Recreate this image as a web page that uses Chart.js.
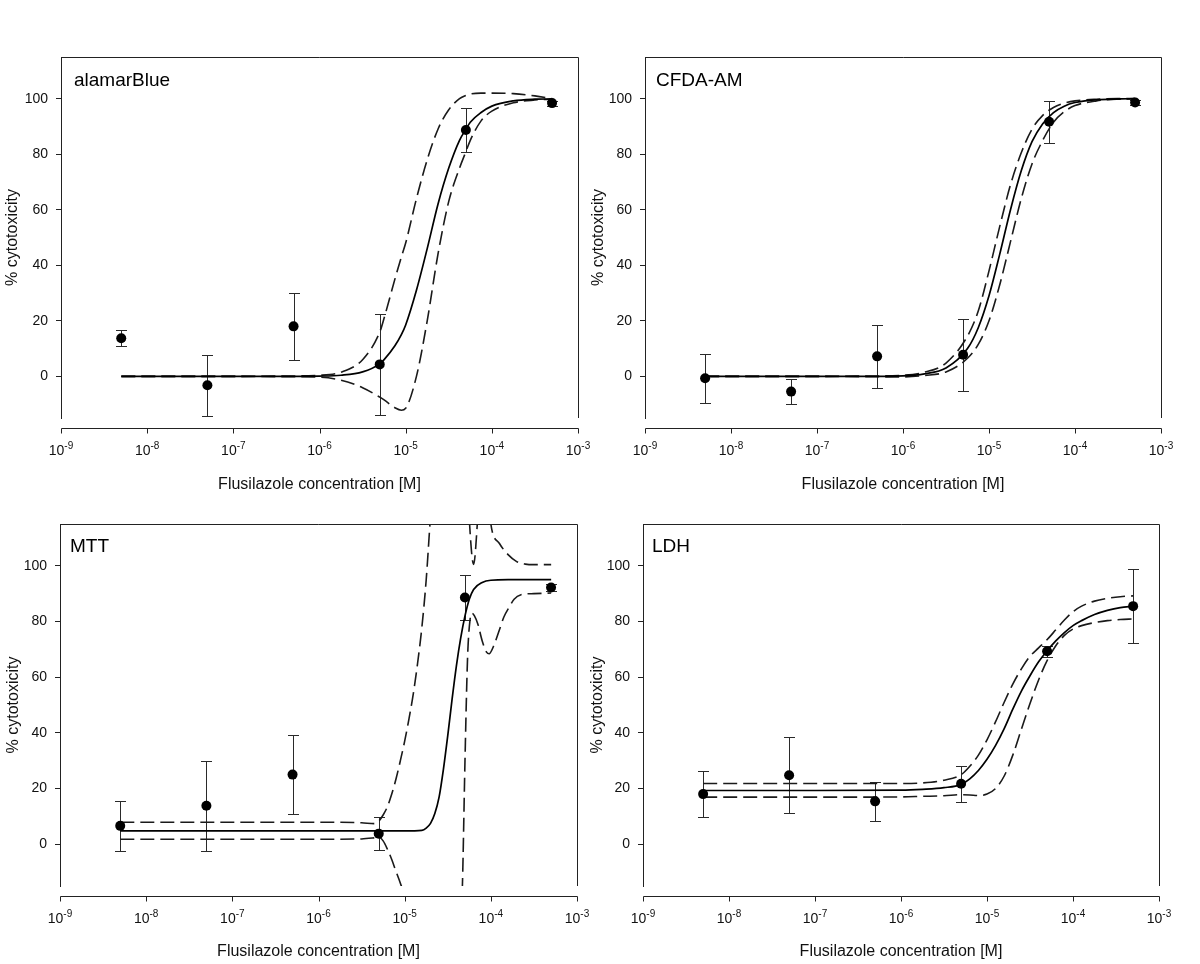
<!DOCTYPE html>
<html>
<head>
<meta charset="utf-8">
<title>Flusilazole cytotoxicity</title>
<script src="https://cdn.jsdelivr.net/npm/chart.js@4.4.1/dist/chart.umd.min.js"></script>
<style>
  html, body { margin: 0; padding: 0; background: #fff; overflow: hidden; }
  #wrap { position: relative; width: 1200px; height: 964px; background: #fff; }
  canvas { position: absolute; }
</style>
</head>
<body>
<div id="wrap">
  <canvas id="c1" width="600" height="500" style="left:0px;top:0px"></canvas>
  <canvas id="c2" width="620" height="500" style="left:580px;top:0px"></canvas>
  <canvas id="c3" width="600" height="464" style="left:0px;top:500px"></canvas>
  <canvas id="c4" width="620" height="464" style="left:580px;top:500px"></canvas>
</div>
<script>
// concentrations of the measured points (M)
const concM = [5e-9, 5e-8, 5e-7, 5e-6, 5e-5, 5e-4];
const tickExp = [-9, -8, -7, -6, -5, -4, -3];
const yTicks = [0, 20, 40, 60, 80, 100];

// alamarBlue
const abMean = [13.7, -3.2, 18.0, 4.3, 88.7, 98.4];
const abSd = [2.9, 11.0, 12.0, 18.2, 7.8, 0.9];
const abCurveExp = [-8.3, -7, -6.5, -6, -5.75, -5.5, -5.3, -5.25, -5.125, -5.05, -5, -4.875, -4.75, -4.625, -4.5, -4.375, -4.3, -4.25, -4.125, -4, -3.75, -3.5, -3.3];
const abFit = [0, 0, 0, 0.1, 0.4, 1.6, 4.5, 6, 11, 15, 18.5, 31, 46, 62, 75, 85, 89, 91.5, 95, 97.3, 99.2, 99.8, 99.9];
const abHi = [0, 0, 0.1, 0.4, 1.5, 6, 16, 21, 35, 43, 48, 64, 78, 89, 96, 100, 101.2, 101.7, 102, 102, 101.8, 101, 100];
const abLo = [0, 0, -0.1, -0.3, -1.4, -4.1, -7.5, -8.5, -11.3, -12.2, -11.5, 0, 20, 44, 63, 75, 81, 85, 92, 95.5, 98.5, 99.5, 99.8];

// CFDA-AM
const cfMean = [-0.7, -5.5, 7.2, 7.8, 91.7, 98.6];
const cfSd = [8.8, 4.4, 11.3, 13.0, 7.5, 0.9];
const cfCurveExp = [-8.3, -7, -6.5, -6, -5.75, -5.5, -5.25, -5.125, -5, -4.875, -4.75, -4.625, -4.5, -4.375, -4.25, -4.125, -4, -3.75, -3.5, -3.3];
const cfFit = [0, 0, 0, 0.2, 0.9, 3, 10, 17.5, 29, 44, 60, 74, 84.5, 91, 95, 97.3, 98.6, 99.6, 99.9, 100];
const cfHi = [0, 0, 0.1, 0.4, 1.5, 4.8, 14.5, 23.5, 38, 54, 69, 80.5, 89, 94, 96.8, 98.4, 99.2, 99.8, 100, 100];
const cfLo = [0, 0, -0.1, -0.2, 0.3, 1.6, 6.5, 11.5, 20, 33, 48.5, 64, 76.5, 85, 91.5, 95.3, 97.5, 99.2, 99.8, 99.9];

// MTT
const mtMean = [6.6, 13.8, 25.0, 3.8, 88.6, 92.2];
const mtSd = [9.0, 16.2, 14.3, 6.0, 8.2, 1.2];
const mtFitExp = [-8.3, -5.0, -4.8, -4.75, -4.7, -4.65, -4.6, -4.55, -4.5, -4.45, -4.4, -4.35, -4.3, -4.25, -4.2, -4.1, -4.0, -3.8, -3.3];
const mtFit = [4.8, 4.8, 5.0, 5.8, 7.5, 11, 17, 27, 39, 52, 64, 74, 82, 88, 91.5, 94, 94.8, 95, 95];
const mtHiExp = [-8.3, -6, -5.5, -5.35, -5.3, -5.25, -5.2, -5.15, -5.1, -5.05, -5.0, -4.95, -4.9, -4.85, -4.8, -4.75, -4.7, -4.6, -4.45, -4.3, -4.26, -4.2, -4.14, -4.07, -4.0, -3.9, -3.8, -3.7, -3.6, -3.5, -3.3];
const mtHi = [7.9, 7.9, 7.7, 7.4, 8.3, 10.5, 13.5, 18, 23.5, 30, 37, 45, 54, 65, 78, 95, 118, 160, 175, 150, 122, 100.5, 122, 140, 115, 108, 104, 101.5, 100.6, 100.4, 100.4];
const mtLoExp = [-8.3, -6, -5.5, -5.35, -5.3, -5.25, -5.2, -5.15, -5.1, -5.05, -5.0, -4.9, -4.7, -4.5, -4.38, -4.33, -4.3, -4.27, -4.24, -4.22, -4.19, -4.15, -4.1, -4.05, -4.02, -3.97, -3.9, -3.85, -3.78, -3.73, -3.65, -3.5, -3.3];
const mtLo = [1.8, 1.8, 1.9, 2.3, 2.5, 1.2, -1.8, -5.5, -9.8, -14, -19, -35, -70, -80, -50, -15, 30, 67, 81, 83, 82, 79, 73, 69, 68.4, 71, 77, 81.5, 85.5, 88, 89.6, 90, 90.2];

// LDH
const ldMean = [18.0, 24.8, 15.4, 21.7, 69.3, 85.5];
const ldSd = [8.3, 13.6, 7.0, 6.5, 2.0, 13.2];
const ldCurveExp = [-8.3, -7, -6, -5.75, -5.5, -5.3, -5.2, -5.1, -5, -4.9, -4.8, -4.7, -4.6, -4.5, -4.4, -4.3, -4.2, -4.1, -4.0, -3.9, -3.75, -3.6, -3.45, -3.3];
const ldFit = [19.3, 19.3, 19.4, 19.7, 20.3, 21.5, 23.5, 26.5, 30.5, 35.5, 41.5, 48.5, 55, 60.5, 65.5, 69.5, 73, 76, 78.5, 80.3, 82.5, 84, 85, 85.5];
const ldHi = [21.8, 21.8, 21.8, 22, 23, 25, 28, 32, 37.5, 44, 51, 57.5, 63, 67.5, 70.5, 73.5, 77, 80.5, 83.5, 85.5, 87.3, 88.3, 88.9, 89.2];
const ldLo = [16.9, 16.9, 17, 17.2, 17.4, 17.8, 17.7, 17.5, 18, 20, 24.5, 32, 41.3, 50.5, 59, 66, 71.3, 75, 77.3, 78.5, 79.6, 80.3, 80.7, 80.9];

const FONT = '"Liberation Sans", Arial, Helvetica, sans-serif';
Chart.defaults.font.family = FONT;
Chart.defaults.color = '#111';

function toXY(exps, vals) {
    return exps.map((e, i) => ({ x: Math.pow(10, e), y: vals[i] }));
}

const panels = [
    { id: 'c1', label: 'alamarBlue', mean: abMean, sd: abSd,
      fit: toXY(abCurveExp, abFit), hi: toXY(abCurveExp, abHi), lo: toXY(abCurveExp, abLo),
      area: { left: 61, right: 578, top: 57, bottom: 418 }, yPad: 3.4, xPad: 5.4, labelDx: 13, labelDy: 29 },
    { id: 'c2', label: 'CFDA-AM', mean: cfMean, sd: cfSd,
      fit: toXY(cfCurveExp, cfFit), hi: toXY(cfCurveExp, cfHi), lo: toXY(cfCurveExp, cfLo),
      area: { left: 65, right: 581, top: 57, bottom: 418 }, yPad: 9, xPad: 5.4, labelDx: 11, labelDy: 29 },
    { id: 'c3', label: 'MTT', mean: mtMean, sd: mtSd,
      fit: toXY(mtFitExp, mtFit), hi: toXY(mtHiExp, mtHi), lo: toXY(mtLoExp, mtLo),
      area: { left: 60, right: 577, top: 24, bottom: 386 }, yPad: 4, xPad: 2.7, labelDx: 10, labelDy: 28 },
    { id: 'c4', label: 'LDH', mean: ldMean, sd: ldSd,
      fit: toXY(ldCurveExp, ldFit), hi: toXY(ldCurveExp, ldHi), lo: toXY(ldCurveExp, ldLo),
      area: { left: 63, right: 579, top: 24, bottom: 386 }, yPad: 8, xPad: 2.7, labelDx: 9, labelDy: 28 }
];

function framePlugin(p) {
    return {
        id: 'frame_' + p.id,
        beforeDatasetsDraw(chart) {
            // error bars under the dots
            const ctx = chart.ctx;
            const x = chart.scales.x, y = chart.scales.y;
            ctx.save();
            ctx.strokeStyle = '#2a2a2a';
            ctx.lineWidth = 1;
            p.mean.forEach((m, i) => {
                const px = Math.round(x.getPixelForValue(concM[i])) + 0.5;
                const yt = Math.round(y.getPixelForValue(m + p.sd[i])) + 0.5;
                const yb = Math.round(y.getPixelForValue(m - p.sd[i])) + 0.5;
                ctx.beginPath();
                ctx.moveTo(px, yt); ctx.lineTo(px, yb);
                ctx.moveTo(px - 5.5, yt); ctx.lineTo(px + 5.5, yt);
                ctx.moveTo(px - 5.5, yb); ctx.lineTo(px + 5.5, yb);
                ctx.stroke();
            });
            ctx.restore();
        },
        afterDraw(chart) {
            const ctx = chart.ctx;
            const ca = chart.chartArea;
            const x = chart.scales.x;
            ctx.save();
            ctx.strokeStyle = '#222';
            ctx.lineWidth = 1;
            // top and right border of the frame
            const t = Math.round(ca.top) + 0.5;
            const r = Math.round(ca.right) + 0.5;
            ctx.beginPath();
            ctx.moveTo(ca.left, t); ctx.lineTo(r, t);
            ctx.lineTo(r, ca.bottom);
            ctx.stroke();
            // x axis, set a little below the frame
            const ax = Math.round(ca.bottom) + 10.5;
            ctx.beginPath();
            ctx.moveTo(Math.round(x.getPixelForValue(1e-9)) + 0.5, ax);
            ctx.lineTo(Math.round(x.getPixelForValue(1e-3)) + 0.5, ax);
            tickExp.forEach(e => {
                const px = Math.round(x.getPixelForValue(Math.pow(10, e))) + 0.5;
                ctx.moveTo(px, ax);
                ctx.lineTo(px, ax + 5);
            });
            ctx.stroke();
            // x tick labels as 10 with a raised exponent
            ctx.fillStyle = '#111';
            ctx.textBaseline = 'alphabetic';
            ctx.textAlign = 'left';
            const base = Math.round(ca.bottom) + 37;
            tickExp.forEach(e => {
                const px = x.getPixelForValue(Math.pow(10, e));
                const exp = String(e);
                ctx.font = '14px ' + FONT;
                const w1 = ctx.measureText('10').width;
                ctx.font = '10px ' + FONT;
                const w2 = ctx.measureText(exp).width;
                const sx = px - (w1 + w2) / 2;
                ctx.font = '14px ' + FONT;
                ctx.fillText('10', sx, base);
                ctx.font = '10px ' + FONT;
                ctx.fillText(exp, sx + w1, base - 6);
            });
            // panel name
            ctx.fillStyle = '#000';
            ctx.font = '19px ' + FONT;
            ctx.fillText(p.label, ca.left + p.labelDx, ca.top + p.labelDy);
            ctx.restore();
        }
    };
}

function curve(data, dashed) {
    return {
        data: data,
        borderColor: dashed ? '#1a1a1a' : '#000',
        borderWidth: dashed ? 1.6 : 1.7,
        borderDash: dashed ? [14, 6] : [],
        pointRadius: 0,
        fill: false,
        cubicInterpolationMode: 'monotone',
        clip: 0,
        order: 1
    };
}

function makeChart(p) {
    const canvas = document.getElementById(p.id);
    const W = canvas.width, H = canvas.height;
    const a = p.area;
    new Chart(canvas, {
        type: 'line',
        data: {
            datasets: [
                {
                    data: concM.map((c, i) => ({ x: c, y: p.mean[i] })),
                    showLine: false,
                    pointRadius: 5,
                    pointBackgroundColor: '#000',
                    pointBorderColor: '#000',
                    pointBorderWidth: 0,
                    order: 0
                },
                curve(p.fit, false),
                curve(p.hi, true),
                curve(p.lo, true)
            ]
        },
        options: {
            responsive: false,
            animation: false,
            devicePixelRatio: 1,
            events: [],
            layout: { padding: { left: 0, top: a.top, right: W - a.right, bottom: 0 } },
            plugins: { legend: { display: false }, tooltip: { enabled: false } },
            scales: {
                x: {
                    type: 'logarithmic',
                    min: 1e-9,
                    max: 1e-3,
                    afterBuildTicks: s => { s.ticks = tickExp.map(e => ({ value: Math.pow(10, e) })); },
                    afterFit: s => { s.height = H - a.bottom; },
                    // axis line, marks and labels are drawn by the plugin
                    grid: { display: false, drawTicks: false },
                    border: { display: false },
                    ticks: { display: false },
                    title: {
                        display: true,
                        text: 'Flusilazole concentration [M]',
                        font: { size: 16 },
                        color: '#111',
                        padding: { top: 0, bottom: p.xPad }
                    }
                },
                y: {
                    min: -15,
                    max: 115,
                    afterBuildTicks: s => { s.ticks = yTicks.map(v => ({ value: v })); },
                    afterFit: s => { s.width = a.left; },
                    grid: { drawOnChartArea: false, drawTicks: true, tickLength: 5, color: '#222' },
                    border: { display: true, color: '#222', width: 1 },
                    ticks: { font: { size: 14 }, color: '#111', padding: 8 },
                    title: {
                        display: true,
                        text: '% cytotoxicity',
                        font: { size: 16 },
                        color: '#111',
                        padding: { top: p.yPad, bottom: 0 }
                    }
                }
            }
        },
        plugins: [framePlugin(p)]
    });
}

panels.forEach(makeChart);
</script>
</body>
</html>
